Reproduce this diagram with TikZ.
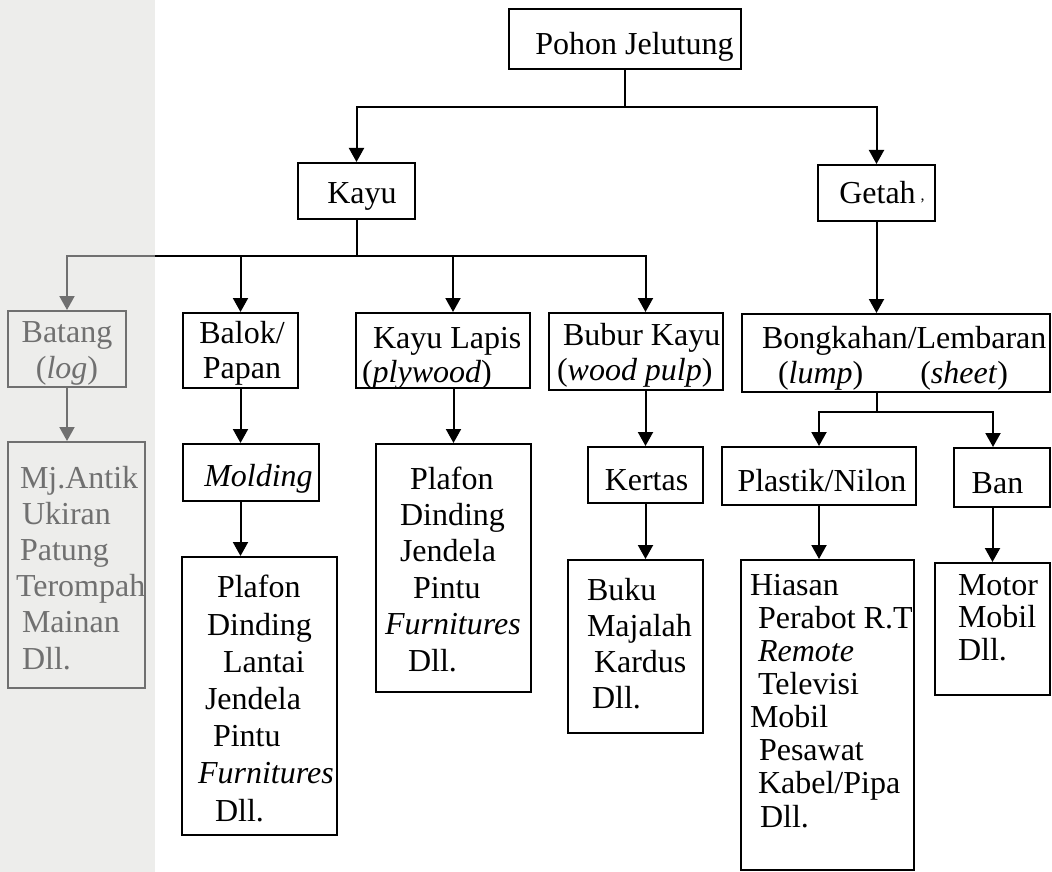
\documentclass[tikz,border=0pt]{standalone}
\usepackage{fontspec}
\setmainfont{Liberation Serif}
\usetikzlibrary{arrows.meta}
\definecolor{band}{RGB}{237,237,235}
\definecolor{fade}{RGB}{112,112,112}
% text placer: #1 dx, #2 raise (centre minus last baseline), #3 l/c, #4 line spacing, #5 lines
\newcommand\Tx[5]{\makebox[0pt][#3]{\hspace*{#1}\raisebox{#2}[0pt][0pt]{\fontsize{32}{#4}\selectfont\renewcommand\arraystretch{1}\begin{tabular}[b]{@{}#3@{}}#5\end{tabular}}\hspace*{-#1}}}
\begin{document}
\begin{tikzpicture}[x=1pt,y=-1pt,
  bx/.style={draw=black, line width=2pt, inner sep=0pt, font=\fontsize{32}{36}\selectfont},
  fbx/.style={bx, draw=fade, text=fade},
  ln/.style={line width=2pt},
  arr/.style={ln, -{Triangle[width=15pt,length=14pt]}},
  farr/.style={arr, draw=fade}]
\useasboundingbox (0,0) rectangle (1052,872);
\fill[band] (0,0) rectangle (155,872);

% top level
\node[bx, minimum width=232pt, minimum height=60pt] (Pohon) at (625,39) {\Tx{9.5pt}{-16pt}{c}{36pt}{Pohon Jelutung}};
\node[bx, minimum width=117pt, minimum height=56pt] (Kayu) at (356.5,191) {\Tx{5.5pt}{-12pt}{c}{36pt}{Kayu}};
\node[bx, minimum width=117pt, minimum height=56pt] (Getah) at (876.5,193) {\Tx{5.5pt}{-10pt}{c}{36pt}{Getah\hspace{5pt}\raisebox{2pt}{\fontsize{16}{16}\selectfont ,}}};

% second row
\node[fbx, minimum width=118pt, minimum height=76pt] (Batang) at (67,349) {\Tx{0pt}{-29pt}{c}{36pt}{Batang\\(\textit{log})}};
\node[bx, minimum width=115pt, minimum height=75pt] (Balok) at (240.5,350.5) {\Tx{1.5pt}{-27.5pt}{c}{35pt}{Balok/\\Papan}};
\node[bx, minimum width=174pt, minimum height=75pt] (KL) at (443,350.5) {\Tx{-81pt}{-31.5pt}{l}{34pt}{\hspace*{11pt}Kayu Lapis\\(\textit{plywood})}};
\node[bx, minimum width=174pt, minimum height=77pt] (Bubur) at (636,351.5) {\Tx{-79pt}{-28.5pt}{l}{35pt}{\hspace*{6pt}Bubur Kayu\\(\textit{wood pulp})}};
\node[bx, minimum width=308pt, minimum height=78pt] (Bong) at (896,353) {\Tx{-134pt}{-30pt}{l}{35pt}{Bongkahan/Lembaran\\\hspace*{16pt}(\textit{lump})\hspace*{57pt}(\textit{sheet})}};

% third row
\node[fbx, minimum width=137pt, minimum height=246pt] (Mj) at (76.5,565) {\Tx{-56.5pt}{-104pt}{l}{36.2pt}{Mj.Antik\\\hspace*{2pt}Ukiran\\Patung\\\hspace*{-4pt}Terompah\\\hspace*{2pt}Mainan\\\hspace*{2pt}Dll.}};
\node[bx, minimum width=136pt, minimum height=57pt] (Molding) at (251,472.5) {\Tx{7.5pt}{-14pt}{c}{36pt}{\textit{Molding}}};
\node[bx, minimum width=155pt, minimum height=278pt] (Blist) at (259.5,696) {\Tx{-61.5pt}{-125pt}{l}{37.2pt}{\hspace*{19pt}Plafon\\\hspace*{9pt}Dinding\\\hspace*{25pt}Lantai\\\hspace*{7pt}Jendela\\\hspace*{15pt}Pintu\\\textit{Furnitures}\\\hspace*{17pt}Dll.}};
\node[bx, minimum width=155pt, minimum height=248pt] (KLlist) at (453.5,568) {\Tx{-68.5pt}{-103pt}{l}{36.4pt}{\hspace*{25pt}Plafon\\\hspace*{15pt}Dinding\\\hspace*{15pt}Jendela\\\hspace*{28pt}Pintu\\\textit{Furnitures}\\\hspace*{23pt}Dll.}};
\node[bx, minimum width=115pt, minimum height=56pt] (Kertas) at (645.5,475) {\Tx{1pt}{-15pt}{c}{36pt}{Kertas}};
\node[bx, minimum width=194pt, minimum height=58pt] (Plastik) at (819,476) {\Tx{3pt}{-15.7pt}{c}{36pt}{Plastik/Nilon}};
\node[bx, minimum width=96pt, minimum height=59pt] (Ban) at (1002,477.5) {\Tx{-4.5pt}{-15.5pt}{c}{36pt}{Ban}};

% fourth row
\node[bx, minimum width=135pt, minimum height=173pt] (Buku) at (635.5,646.5) {\Tx{-48.5pt}{-61.5pt}{l}{36pt}{Buku\\Majalah\\\hspace*{7pt}Kardus\\\hspace*{5pt}Dll.}};
\node[bx, minimum width=173pt, minimum height=310pt] (Plist) at (827.5,715) {\Tx{-77.5pt}{-112pt}{l}{33.1pt}{Hiasan\\\hspace*{8pt}Perabot R.T\\\hspace*{8pt}\textit{Remote}\\\hspace*{8pt}Televisi\\Mobil\\\hspace*{9pt}Pesawat\\\hspace*{8pt}Kabel/Pipa\\\hspace*{10pt}Dll.}};
\node[bx, minimum width=115pt, minimum height=132pt] (Banlist) at (992.5,629) {\Tx{-34.5pt}{-31pt}{l}{32.5pt}{Motor\\Mobil\\Dll.}};

% connectors
\coordinate (p1) at (625,107);
\draw[ln] (Pohon.south) -- (p1);
\draw[arr] (p1) -| (Kayu.north);
\draw[arr] (p1) -| (Getah.north);

\coordinate (k1) at (356.5,256);
\coordinate (ke) at (155,256);
\draw[ln] (Kayu.south) -- (k1);
\draw[ln] (ke) -- (k1);
\draw[arr] (k1) -| ([xshift=9.5pt]Bubur.north);
\draw[arr] (Balok.north |- k1) -- (Balok.north);
\draw[arr] ([xshift=10pt]KL.north |- k1) -- ([xshift=10pt]KL.north);
\draw[farr] (ke) -| (Batang.north);
\draw[farr] (Batang.south) -- (Batang.south |- Mj.north);

\draw[arr] (Balok.south) -- (Balok.south |- Molding.north);
\draw[arr] (Balok.south |- Molding.south) -- (Balok.south |- Blist.north);
\draw[arr] (KLlist.north |- KL.south) -- (KLlist.north);
\draw[arr] (Kertas.north |- Bubur.south) -- (Kertas.north);
\draw[arr] (Kertas.south) -- (Kertas.south |- Buku.north);

\draw[arr] (Getah.south) -- (Getah.south |- Bong.north);
\coordinate (b1) at (876.5,412);
\draw[ln] (Getah.south |- Bong.south) -- (b1);
\draw[arr] (b1) -| (Plastik.north);
\draw[arr] (b1) -| ([xshift=-9pt]Ban.north);
\draw[arr] (Plastik.south) -- (Plastik.south |- Plist.north);
\draw[arr] (Banlist.north |- Ban.south) -- (Banlist.north);
\end{tikzpicture}
\end{document}
